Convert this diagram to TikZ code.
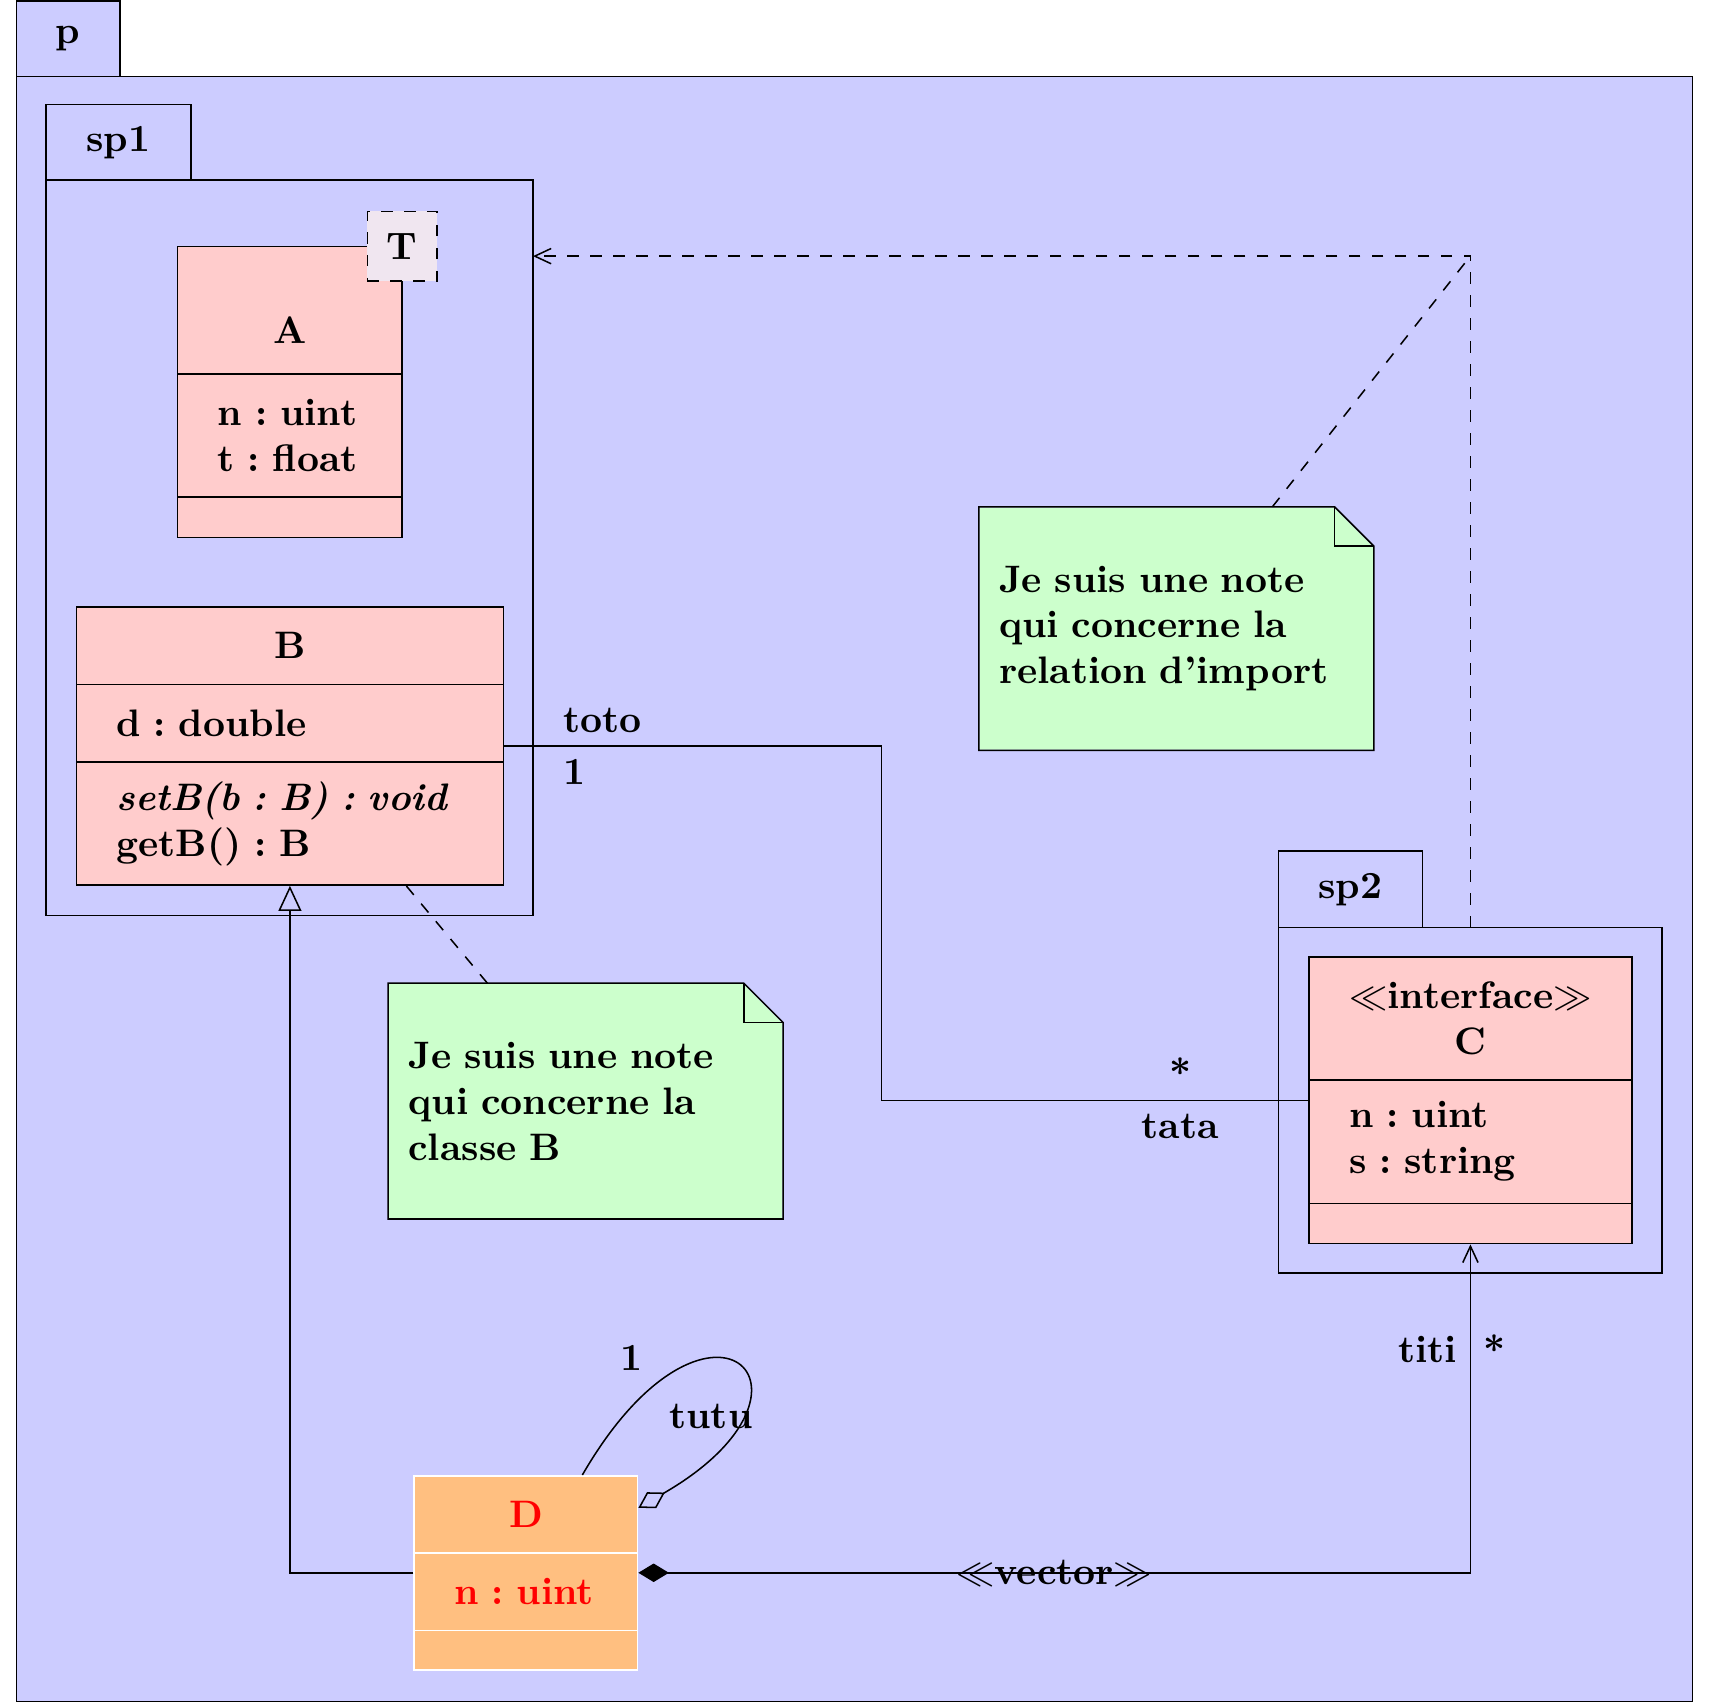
\documentclass[tikz,border=0pt]{standalone}
\usepackage{amsmath, amssymb}
\usepackage{xcolor}
\usepackage{tikz}
\usetikzlibrary{positioning, fit, arrows.meta}

\definecolor{tplfill}{RGB}{240,230,240}

\tikzset{
    pkgtab/.style={draw, fill=blue!20, inner sep=0pt, outer sep=0pt, anchor=south west},
    pkgbody/.style={draw, fill=blue!20, inner sep=0pt, outer sep=0pt, anchor=north west},
    umlpart/.style={draw, fill=red!20, inner xsep=3.7mm, inner ysep=0pt, outer sep=0pt},
    dpart/.style={umlpart, draw=white, fill=orange!50, text=red},
    umlfit/.style={inner sep=0pt},
    tplbox/.style={draw, dashed, fill=tplfill, minimum size=6.4mm, inner sep=0pt},
    umlnote/.style={
        inner xsep=1.8mm, inner ysep=0pt, align=left, anchor=north west,
        path picture={
            \fill[green!20] (path picture bounding box.north west)
                -- ([xshift=-3.6mm]path picture bounding box.north east)
                -- ([yshift=-3.6mm]path picture bounding box.north east)
                -- (path picture bounding box.south east)
                -- (path picture bounding box.south west) -- cycle;
        }
    },
    notelink/.style={dashed},
    importline/.style={dashed, -{Straight Barb[length=1.5mm,width=1.4mm]}},
    inherit/.style={-{Triangle[open,length=2.3mm,width=2.1mm]}},
    compo/.style={{Diamond[length=2.8mm,width=1.7mm]}-{Straight Barb[length=1.5mm,width=1.4mm]}},
    aggreg/.style={-{Diamond[open,length=2.8mm,width=1.7mm]}}
}

\newcommand{\notefold}[1]{%
    \draw (#1.north west) -- ([xshift=-3.6mm]#1.north east)
        -- ([yshift=-3.6mm]#1.north east) -- (#1.south east)
        -- (#1.south west) -- cycle;
    \draw ([xshift=-3.6mm]#1.north east) |- ([yshift=-3.6mm]#1.north east);
}

\begin{document}
\begin{tikzpicture}[>=latex, font=\bfseries]

    \useasboundingbox (0,0) rectangle (15.68,-15.62);

    % 1. Paquetages p, sp1, sp2
    \node[pkgbody, minimum width=15.38cm, minimum height=14.91cm]
        (p) at (0.15,-0.70) {};
    \node[pkgtab, minimum width=0.95cm, minimum height=0.69cm]
        (p-tab) at (p.north west) {p};

    \node[pkgbody, minimum width=4.47cm, minimum height=6.75cm]
        (sp1) at (0.42,-1.65) {};
    \node[pkgtab, minimum width=1.33cm, minimum height=0.69cm]
        (sp1-tab) at (sp1.north west) {sp1};

    \node[pkgbody, minimum width=3.52cm, minimum height=3.17cm]
        (sp2) at (11.73,-8.51) {};
    \node[pkgtab, minimum width=1.32cm, minimum height=0.70cm]
        (sp2-tab) at (sp2.north west) {sp2};

    % 2. Classe A (avec parametre T)
    \node[umlpart, minimum width=2.06cm, minimum height=1.17cm,
          anchor=north west, label={[yshift=-1.85mm]center:A}]
        (A-name) at (1.63,-2.26) {};
    \node[umlpart, minimum width=2.06cm, minimum height=1.13cm,
          text width=1.32cm, align=left, below=0pt of A-name]
        (A-attr) {n~:~uint\\t~:~float};
    \node[umlpart, minimum width=2.06cm, minimum height=0.37cm,
          below=0pt of A-attr]
        (A-ops) {};
    \node[umlfit, fit=(A-name)(A-ops)] (A) {};
    \node[tplbox] (A-tpl) at (A-name.north east) {T};

    % 3. Classe B
    \node[umlpart, minimum width=3.92cm, minimum height=0.71cm,
          anchor=north west]
        (B-name) at (0.70,-5.57) {B};
    \node[umlpart, minimum width=3.92cm, minimum height=0.71cm,
          text width=3.18cm, align=left, below=0pt of B-name]
        (B-attr) {d~:~double};
    \node[umlpart, minimum width=3.92cm, minimum height=1.13cm,
          text width=3.18cm, align=left, below=0pt of B-attr]
        (B-ops) {\textit{setB(b~:~B)~:~void}\\getB()~:~B};
    \node[umlfit, fit=(B-name)(B-ops)] (B) {};

    % 4. Interface C
    \node[umlpart, minimum width=2.96cm, minimum height=1.13cm,
          align=center, anchor=north west]
        (C-name) at (12.01,-8.78) {$\ll$interface$\gg$\\C};
    \node[umlpart, minimum width=2.96cm, minimum height=1.13cm,
          text width=2.22cm, align=left, below=0pt of C-name]
        (C-attr) {n~:~uint\\s~:~string};
    \node[umlpart, minimum width=2.96cm, minimum height=0.37cm,
          below=0pt of C-attr]
        (C-ops) {};
    \node[umlfit, fit=(C-name)(C-ops)] (C) {};

    % 5. Classe D
    \node[dpart, minimum width=2.05cm, minimum height=0.71cm,
          anchor=north west]
        (D-name) at (3.80,-13.54) {D};
    \node[dpart, minimum width=2.05cm, minimum height=0.71cm,
          text width=1.31cm, align=left, below=0pt of D-name]
        (D-attr) {n~:~uint};
    \node[dpart, minimum width=2.05cm, minimum height=0.36cm,
          below=0pt of D-attr]
        (D-ops) {};
    \node[umlfit, fit=(D-name)(D-ops)] (D) {};

    % 6. Notes
    \node[umlnote, minimum width=3.61cm, minimum height=2.22cm, text width=3.25cm]
        (n1) at (8.98,-4.65)
        {Je suis une note\\qui concerne la\\relation d'import};
    \notefold{n1}

    \node[umlnote, minimum width=3.61cm, minimum height=2.15cm, text width=3.25cm]
        (n2) at (3.56,-9.02)
        {Je suis une note\\qui concerne la\\classe B};
    \notefold{n2}

    % 7. Relations
    \coordinate (imp-corner) at (sp2.north |- 0,-2.35);
    \draw[importline] (sp2.north) -- (imp-corner) -- (imp-corner -| sp1.east);

    \draw[notelink] (n1) -- (imp-corner);
    \draw[notelink] (n2) -- (B);

    \draw[inherit] (D.west) -| (B.south);

    \draw (B.east)
        -- node[pos=0.12, above right] {toto}
           node[pos=0.12, below right] {1}
        ++(3.46,0)
        |- node[pos=0.85, above] {*}
           node[pos=0.85, below] {tata}
        (C.west);

    \draw[compo] (D.east)
        -| node[pos=0.25] {$\ll$vector$\gg$}
           node[pos=0.84, left] {titi}
           node[pos=0.84, right] {*}
        (C.south);

    \draw[aggreg] (D.60)
        .. controls +(60:2.3) and +(30:2.2) ..
        node[pos=0.2, above left] {1}
        node[pos=0.75, xshift=-2.2mm, yshift=0.5mm] {tutu}
        (D.30);

\end{tikzpicture}
\end{document}
